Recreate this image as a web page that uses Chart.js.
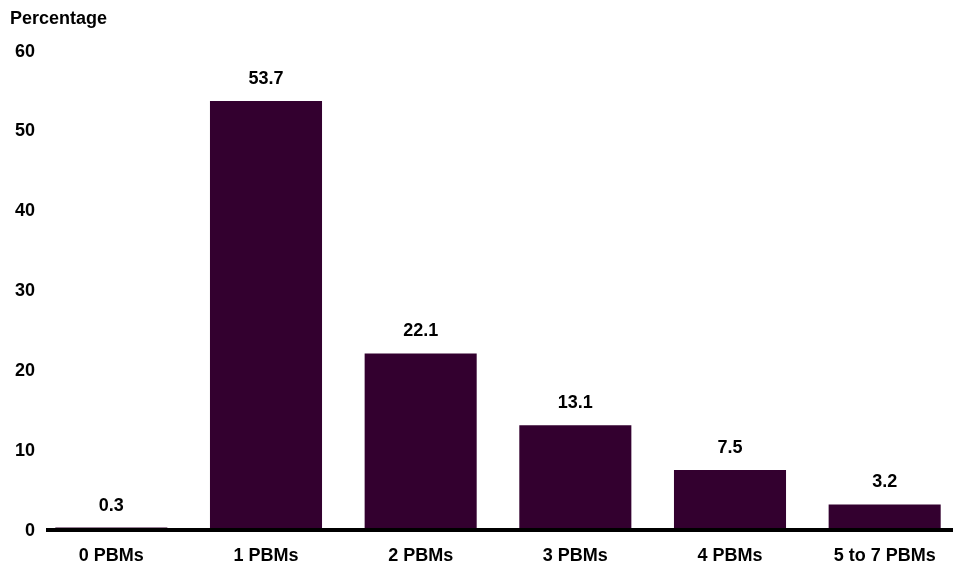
<!DOCTYPE html>
<html>
<head>
<meta charset="utf-8">
<script src="https://cdn.jsdelivr.net/npm/chart.js@4/dist/chart.umd.min.js"></script>
<style>
    body { margin: 0; background: #ffffff; }
    #wrap { width: 962px; height: 570px; }
</style>
</head>
<body>
<div id="wrap"><canvas id="grafica" width="962" height="570"></canvas></div>
<script>
// Datos
const categorias = ['0 PBMs', '1 PBMs', '2 PBMs', '3 PBMs', '4 PBMs', '5 to 7 PBMs'];
const porcentajes = [0.3, 53.7, 22.1, 13.1, 7.5, 3.2];
const ticksY = [0, 10, 20, 30, 40, 50, 60];

const fuente = "'Liberation Sans', Arial, sans-serif";

// Etiquetas encima de cada barra, etiquetas del eje Y y línea base
const etiquetasBarras = {
    id: 'etiquetasBarras',
    afterDatasetsDraw(chart) {
        const ctx = chart.ctx;
        const meta = chart.getDatasetMeta(0);
        const escalaY = chart.scales.y;
        const y0 = escalaY.getPixelForValue(0);
        ctx.save();
        // línea base
        ctx.strokeStyle = '#000000';
        ctx.lineWidth = 4;
        ctx.beginPath();
        ctx.moveTo(46, y0);
        ctx.lineTo(953, y0);
        ctx.stroke();

        ctx.font = "bold 18px " + fuente;
        ctx.fillStyle = '#000000';
        ctx.textAlign = 'center';
        ctx.textBaseline = 'middle';
        meta.data.forEach((barra, i) => {
            ctx.fillText(porcentajes[i].toFixed(1), barra.x, barra.y - 22);
        });
        // el eje Y se dibuja aparte para que no lo recorte la caja de la escala
        ctx.textAlign = 'right';
        ticksY.forEach(v => {
            ctx.fillText(String(v), 35, escalaY.getPixelForValue(v) + 1);
        });
        ctx.restore();
    }
};

const ctx = document.getElementById('grafica').getContext('2d');
new Chart(ctx, {
    type: 'bar',
    data: {
        labels: categorias,
        datasets: [{
            label: 'Percentage',
            data: porcentajes,
            backgroundColor: '#33002f',
            borderWidth: 0,
            categoryPercentage: 0.805,
            barPercentage: 0.9
        }]
    },
    options: {
        responsive: false,
        animation: false,
        layout: {
            padding: { left: 10, right: -5, top: 0, bottom: 0 }
        },
        plugins: {
            legend: { display: false },
            tooltip: { enabled: false },
            title: {
                display: true,
                text: 'Percentage',
                align: 'start',
                color: '#000000',
                font: { family: fuente, size: 18, weight: 'bold' },
                padding: { top: 8, bottom: 21 }
            }
        },
        scales: {
            x: {
                afterFit(scale) { scale.height = 40; },
                grid: { display: false, drawTicks: false },
                border: { display: false },
                ticks: {
                    color: '#000000',
                    font: { family: fuente, size: 18, weight: 'bold' },
                    padding: 15,
                    maxRotation: 0
                }
            },
            y: {
                min: 0,
                max: 60,
                afterFit(scale) { scale.width = 24; },
                grid: { display: false, drawTicks: false },
                border: { display: false },
                ticks: { display: false, stepSize: 10 }
            }
        }
    },
    plugins: [etiquetasBarras]
});
</script>
</body>
</html>
